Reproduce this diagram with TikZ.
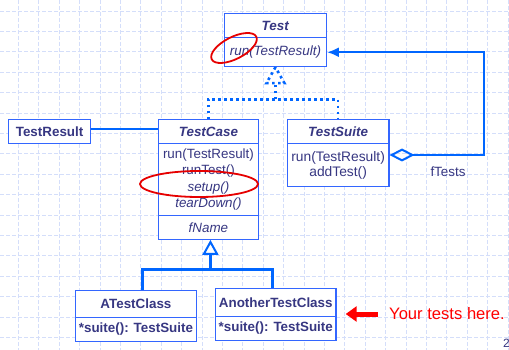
\documentclass[tikz,border=0pt]{standalone}
\usepackage{fontspec}
\setmainfont{Liberation Sans}
\usetikzlibrary{arrows.meta,calc}
\definecolor{txt}{RGB}{55,55,130}
\definecolor{boxb}{RGB}{51,102,255}
\definecolor{lnb}{RGB}{0,102,255}
\definecolor{gridc}{RGB}{212,222,250}
\definecolor{redmk}{RGB}{230,0,0}
\begin{document}
\begin{tikzpicture}[x=1pt,y=-1pt,
  comp/.style={draw=boxb, line width=1.2pt, fill=white, rectangle, inner sep=0pt,
    anchor=north west, text=txt, font=\fontsize{13.4}{16}\selectfont, align=center},
  gridl/.style={draw=gridc, line width=0.7pt, dash pattern=on 4pt off 2pt},
  assoc/.style={draw=lnb, line width=2pt},
  assocthick/.style={draw=lnb, line width=2.4pt},
  dotl/.style={draw=lnb, line width=2.6pt, dash pattern=on 2.6pt off 3.4pt},
  gen/.style={draw=lnb, line width=3pt},
  redring/.style={draw=redmk, line width=1.8pt},
  lbl/.style={text=txt, font=\fontsize{13.4}{16}\selectfont, inner sep=0pt}
]
\useasboundingbox (0,0) rectangle (509,350);
\fill[white] (0,0) rectangle (509,350);
% background grid
\foreach \i in {0,...,24} \draw[gridl] ({18.3+20.4*\i},0) -- ({18.3+20.4*\i},350);
\foreach \j in {0,...,16} \draw[gridl] (0,{11+20.4*\j}) -- (509,{11+20.4*\j});

% classes
\node[comp, minimum width=101.7pt, minimum height=24pt] (t1) at (224,13.3) {\textbf{\textit{Test}}};
\node[comp, minimum width=101.7pt, minimum height=28.7pt] (t2) at (224,37.3) {\textit{run(TestResult)}};

\node[comp, minimum width=82pt, minimum height=24pt] (tr) at (8,119) {\textbf{TestResult}};

\node[comp, minimum width=100.3pt, minimum height=24pt] (tc1) at (157.7,119.3) {\textbf{\textit{TestCase}}};
\node[comp, minimum width=100.3pt, minimum height=71.7pt, font=\fontsize{13.4}{16.5}\selectfont] (tc2) at (157.7,143.3)
  {run(TestResult)\\runTest()\\\textit{setup()}\\\textit{tearDown()}};
\node[comp, minimum width=100.3pt, minimum height=23.7pt] (tc3) at (157.7,215) {\textit{fName}};

\node[comp, minimum width=101.6pt, minimum height=24pt] (ts1) at (286.7,119.3) {\textbf{\textit{TestSuite}}};
\node[comp, minimum width=101.6pt, minimum height=42.7pt, font=\fontsize{13.8}{15.6}\selectfont] (ts2) at (286.7,143.3)
  {run(TestResult)\\addTest()};

\node[comp, minimum width=120.7pt, minimum height=26.7pt] (a1) at (75,290) {\textbf{ATestClass}};
\node[comp, minimum width=120.7pt, minimum height=24pt] (a2) at (75,316.7) {\textbf{*suite(): TestSuite}};
\node[comp, minimum width=120.3pt, minimum height=28pt] (b1) at (215,287.7) {\textbf{AnotherTestClass}};
\node[comp, minimum width=120.3pt, minimum height=24.3pt] (b2) at (215,315.7) {\textbf{*suite(): TestSuite}};

% TestResult -- TestCase
\draw[assoc] ([yshift=3pt]tr.east) -- ([yshift=3pt]tr.east -| tc1.west);

% aggregation TestSuite -> Test
\coordinate (c1) at (484,155);
\draw[assocthick, {Diamond[open,length=25pt,width=13pt,line width=2pt]}-{Latex[length=12pt,width=10pt]}]
  (ts2.east |- c1) -- (c1) |- (t2.east);
\node[lbl] (ft) at (448,172) {fTests};

% dotted realization
\coordinate (h1) at (0,99.3);
\coordinate (j1) at (t2.south |- h1);
\draw[dotl] (tc1.north) |- (j1) -| (ts1.north);
\draw[dotl] (j1) -- ([yshift=-16pt]t2.south);
\draw[dotl] (t2.south) -- ([xshift=-9pt,yshift=-16pt]t2.south) -- ([xshift=9pt,yshift=-16pt]t2.south) -- cycle;

% generalization
\coordinate (h2) at (0,269.3);
\coordinate (j2) at ([xshift=2pt]tc3.south |- h2);
\draw[gen, -{Triangle[open,length=15pt,width=16pt,line width=2pt]}] (j2) -- ([xshift=2pt]tc3.south);
\draw[gen] ([xshift=7pt]a1.north) |- (j2) -| ([xshift=-3pt]b1.north);

% red marks
\draw[redring] (234,48) ellipse [x radius=25pt, y radius=11pt, rotate=27];
\draw[redring] (199,184) ellipse [x radius=59pt, y radius=13pt];

\node[font=\fontsize{16.6}{18}\selectfont, text=red, anchor=west, inner sep=0pt] (yt) at (389,314) {Your tests here.};
\coordinate (rt) at (345.7,314);
\draw[line width=5pt, draw=red, -{Triangle[length=11pt,width=15pt]}] ([xshift=-11pt]yt.west) -- (rt);

\node[font=\fontsize{12}{14}\selectfont, text=txt, anchor=west, inner sep=0pt] (pg) at (503,343) {2};
\end{tikzpicture}
\end{document}
